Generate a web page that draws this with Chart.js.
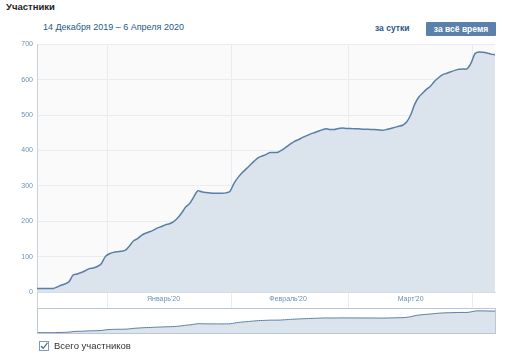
<!DOCTYPE html>
<html>
<head>
<meta charset="utf-8">
<script src="https://cdn.jsdelivr.net/npm/chart.js@4"></script>
<style>
  html, body { margin:0; padding:0; background:#fff; width:505px; height:357px; overflow:hidden; font-family:"Liberation Sans", Arial, sans-serif; }
  .abs { position:absolute; white-space:nowrap; }
  #title { left:6px; top:1px; font-size:9.5px; font-weight:bold; color:#222; }
  #range { left:43px; top:22px; font-size:9px; color:#2a5885; }
  #day { left:375px; top:23px; font-size:8.5px; font-weight:bold; color:#2a5885; }
  #all { left:426px; top:22px; width:70px; height:14px; background:#5b80aa; color:#fff; font-size:8.5px; font-weight:bold; text-align:center; line-height:14px; border-radius:1px; }
  #mainWrap { left:0px; top:36px; width:500px; height:274px; }
  #band { left:37px; top:292px; width:458px; height:16px; border-left:1px solid #c8d3de; box-sizing:border-box; }
  #navWrap { left:37px; top:308px; width:459px; height:26px; border:1px solid #b9c7d6; box-sizing:border-box; }
  #cb { left:39px; top:341px; width:10px; height:10px; border:1px solid #7d9bbd; box-sizing:border-box; background:#fff; }
  #legend { left:54px; top:340px; font-size:9.5px; color:#333; }
</style>
</head>
<body>
<div class="abs" id="title">Участники</div>
<div class="abs" id="range">14 Декабря 2019 – 6 Апреля 2020</div>
<div class="abs" id="day">за сутки</div>
<div class="abs" id="all">за всё время</div>
<div class="abs" id="band"></div>
<div class="abs" id="mainWrap"><canvas id="main" width="500" height="274"></canvas></div>
<div class="abs" id="navWrap"><canvas id="nav" width="457" height="24"></canvas></div>
<div class="abs" id="cb"><svg width="8" height="8" viewBox="0 0 8 8" style="position:absolute;left:0;top:0"><path d="M1 4 L3.2 6.3 L7.5 0.8" stroke="#4a6f9a" stroke-width="1.3" fill="none"/></svg></div>
<div class="abs" id="legend">Всего участников</div>
<script>
// Day index 0 = 14 Dec 2019 ... 114 = 6 Apr 2020
const dayLabels = [];
(function(){
  const start = new Date(2019, 11, 14);
  for (let i = 0; i < 115; i++) {
    const d = new Date(start.getTime()); d.setDate(start.getDate() + i);
    dayLabels.push(d.getDate() + '.' + (d.getMonth() + 1) + '.' + d.getFullYear());
  }
})();
const members = [
  10,10,10,10,10,14,19,23,30,48,
  51,55,60,66,68,72,80,100,108,112,
  114,115,118,130,144,151,160,166,170,175,
  181,185,190,193,199,209,223,240,250,268,
  286,283,281,280,279,279,279,280,284,306,
  323,336,347,358,369,379,384,388,394,394,
  395,401,409,418,425,430,436,441,446,450,
  454,458,461,459,459,462,463,462,462,461,
  461,460,460,459,459,458,457,459,462,465,
  468,471,480,500,530,550,562,573,582,596,
  606,614,618,622,626,629,630,630,646,673,
  678,677,675,672,670
];
const monthBoundaries = [17.5, 48.5, 77.5, 108.5];
const monthLabelPos = [31.5, 62.5, 93];
const monthNames = ["Январь'20", "Февраль'20", "Март'20"];
const yTicks = [0,100,200,300,400,500,600,700];

const points = members.map((v, i) => ({x: i, y: v}));

const bgPlugin = {
  id: 'plotBg',
  beforeDraw(chart) {
    const a = chart.chartArea, c = chart.ctx;
    c.save(); c.fillStyle = '#fafafa'; c.fillRect(a.left, a.top, a.right - a.left, a.bottom - a.top); c.restore();
  }
};

const lineColor = '#5a7ea6';
const fillColor = '#dbe3ec';
const tickColor = '#6d8fb3';
const gridColor = '#e9edf1';
const tickFont = {family: '"Liberation Sans", Arial, sans-serif', size: 7};

new Chart(document.getElementById('main'), {
  type: 'line',
  data: {
    labels: dayLabels,
    datasets: [{
      data: points,
      borderColor: lineColor,
      borderWidth: 1.5,
      backgroundColor: fillColor,
      fill: 'origin',
      pointRadius: 0,
      tension: 0.3
    }]
  },
  plugins: [bgPlugin],
  options: {
    responsive: false,
    animation: false,
    events: [],
    layout: {padding: {top: 5, right: 5, left: 0, bottom: 0}},
    plugins: {legend: {display: false}, tooltip: {enabled: false}},
    scales: {
      x: {
        type: 'linear', min: 0, max: 114,
        afterBuildTicks(s) {
          const t = [];
          monthBoundaries.forEach(v => t.push({value: v}));
          monthLabelPos.forEach(v => t.push({value: v}));
          t.sort((a, b) => a.value - b.value);
          s.ticks = t;
        },
        afterFit(s) { s.height = 18; },
        border: {display: true, color: '#d5dde6'},
        grid: {
          color: ctx => monthBoundaries.includes(ctx.tick && ctx.tick.value) ? gridColor : 'rgba(0,0,0,0)',
          tickColor: ctx => monthBoundaries.includes(ctx.tick && ctx.tick.value) ? gridColor : 'rgba(0,0,0,0)',
          drawTicks: true, tickLength: 16
        },
        ticks: {
          autoSkip: false, maxRotation: 0, padding: -13,
          color: tickColor, font: tickFont,
          callback(v) { const k = monthLabelPos.indexOf(v); return k >= 0 ? monthNames[k] : ''; }
        }
      },
      y: {
        min: 0, max: 700,
        afterBuildTicks(s) { s.ticks = yTicks.map(v => ({value: v})); },
        afterFit(s) { s.width = 37; },
        border: {display: true, color: '#c8d3de'},
        grid: {color: gridColor, drawTicks: false},
        ticks: {padding: 4, color: tickColor, font: tickFont}
      }
    }
  }
});

new Chart(document.getElementById('nav'), {
  type: 'line',
  data: {
    labels: dayLabels,
    datasets: [{
      data: points,
      borderColor: lineColor,
      borderWidth: 1,
      backgroundColor: fillColor,
      fill: 'origin',
      pointRadius: 0,
      tension: 0.3
    }]
  },
  options: {
    responsive: false,
    animation: false,
    events: [],
    layout: {padding: 0},
    plugins: {legend: {display: false}, tooltip: {enabled: false}},
    scales: {
      x: {type: 'linear', min: 0, max: 114, display: false},
      y: {min: 0, max: 735, display: false}
    }
  }
});
</script>
</body>
</html>
